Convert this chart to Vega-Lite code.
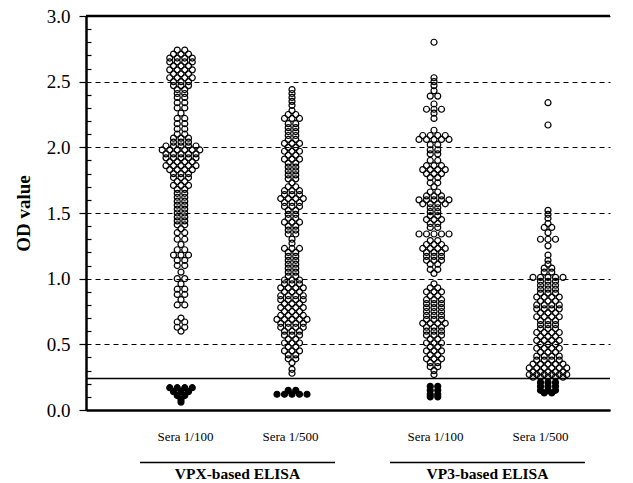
{
"$schema": "https://vega.github.io/schema/vega-lite/v6.json",
"width": 524, "height": 394,
"autosize": "none",
"padding": {"left": 86, "top": 16, "right": 23, "bottom": 73},
"background": "white",
"config": {"view": {"stroke": null}, "font": "Liberation Serif"},
"datasets": {
"assays": [{"assay": "VPX-based ELISA"}, {"assay": "VP3-based ELISA"}],
"sera": [
{"a":"VPX","d":"1/100","od":2.74},{"a":"VPX","d":"1/100","od":2.74},
{"a":"VPX","d":"1/100","od":2.71},{"a":"VPX","d":"1/100","od":2.71},{"a":"VPX","d":"1/100","od":2.71},
{"a":"VPX","d":"1/100","od":2.68},{"a":"VPX","d":"1/100","od":2.68},{"a":"VPX","d":"1/100","od":2.68},{"a":"VPX","d":"1/100","od":2.68},
{"a":"VPX","d":"1/100","od":2.65},{"a":"VPX","d":"1/100","od":2.65},{"a":"VPX","d":"1/100","od":2.65},{"a":"VPX","d":"1/100","od":2.65},
{"a":"VPX","d":"1/100","od":2.62},{"a":"VPX","d":"1/100","od":2.62},{"a":"VPX","d":"1/100","od":2.62},
{"a":"VPX","d":"1/100","od":2.59},{"a":"VPX","d":"1/100","od":2.59},{"a":"VPX","d":"1/100","od":2.59},{"a":"VPX","d":"1/100","od":2.59},
{"a":"VPX","d":"1/100","od":2.56},{"a":"VPX","d":"1/100","od":2.56},{"a":"VPX","d":"1/100","od":2.56},
{"a":"VPX","d":"1/100","od":2.53},{"a":"VPX","d":"1/100","od":2.53},{"a":"VPX","d":"1/100","od":2.53},{"a":"VPX","d":"1/100","od":2.53},
{"a":"VPX","d":"1/100","od":2.50},{"a":"VPX","d":"1/100","od":2.50},{"a":"VPX","d":"1/100","od":2.50},
{"a":"VPX","d":"1/100","od":2.47},{"a":"VPX","d":"1/100","od":2.47},{"a":"VPX","d":"1/100","od":2.47},
{"a":"VPX","d":"1/100","od":2.44},{"a":"VPX","d":"1/100","od":2.44},
{"a":"VPX","d":"1/100","od":2.41},{"a":"VPX","d":"1/100","od":2.41},
{"a":"VPX","d":"1/100","od":2.38},{"a":"VPX","d":"1/100","od":2.38},
{"a":"VPX","d":"1/100","od":2.34},{"a":"VPX","d":"1/100","od":2.34},
{"a":"VPX","d":"1/100","od":2.30},{"a":"VPX","d":"1/100","od":2.30},
{"a":"VPX","d":"1/100","od":2.26},
{"a":"VPX","d":"1/100","od":2.22},{"a":"VPX","d":"1/100","od":2.22},
{"a":"VPX","d":"1/100","od":2.18},{"a":"VPX","d":"1/100","od":2.18},
{"a":"VPX","d":"1/100","od":2.14},{"a":"VPX","d":"1/100","od":2.14},
{"a":"VPX","d":"1/100","od":2.10},{"a":"VPX","d":"1/100","od":2.10},
{"a":"VPX","d":"1/100","od":2.07},{"a":"VPX","d":"1/100","od":2.07},{"a":"VPX","d":"1/100","od":2.07},
{"a":"VPX","d":"1/100","od":2.04},{"a":"VPX","d":"1/100","od":2.04},{"a":"VPX","d":"1/100","od":2.04},
{"a":"VPX","d":"1/100","od":2.01},{"a":"VPX","d":"1/100","od":2.01},{"a":"VPX","d":"1/100","od":2.01},{"a":"VPX","d":"1/100","od":2.01},{"a":"VPX","d":"1/100","od":2.01},
{"a":"VPX","d":"1/100","od":1.98},{"a":"VPX","d":"1/100","od":1.98},{"a":"VPX","d":"1/100","od":1.98},{"a":"VPX","d":"1/100","od":1.98},{"a":"VPX","d":"1/100","od":1.98},{"a":"VPX","d":"1/100","od":1.98},
{"a":"VPX","d":"1/100","od":1.95},{"a":"VPX","d":"1/100","od":1.95},{"a":"VPX","d":"1/100","od":1.95},{"a":"VPX","d":"1/100","od":1.95},{"a":"VPX","d":"1/100","od":1.95},
{"a":"VPX","d":"1/100","od":1.92},{"a":"VPX","d":"1/100","od":1.92},{"a":"VPX","d":"1/100","od":1.92},{"a":"VPX","d":"1/100","od":1.92},{"a":"VPX","d":"1/100","od":1.92},
{"a":"VPX","d":"1/100","od":1.89},{"a":"VPX","d":"1/100","od":1.89},{"a":"VPX","d":"1/100","od":1.89},{"a":"VPX","d":"1/100","od":1.89},
{"a":"VPX","d":"1/100","od":1.86},{"a":"VPX","d":"1/100","od":1.86},{"a":"VPX","d":"1/100","od":1.86},{"a":"VPX","d":"1/100","od":1.86},{"a":"VPX","d":"1/100","od":1.86},
{"a":"VPX","d":"1/100","od":1.83},{"a":"VPX","d":"1/100","od":1.83},{"a":"VPX","d":"1/100","od":1.83},{"a":"VPX","d":"1/100","od":1.83},
{"a":"VPX","d":"1/100","od":1.80},{"a":"VPX","d":"1/100","od":1.80},{"a":"VPX","d":"1/100","od":1.80},
{"a":"VPX","d":"1/100","od":1.77},{"a":"VPX","d":"1/100","od":1.77},{"a":"VPX","d":"1/100","od":1.77},
{"a":"VPX","d":"1/100","od":1.74},{"a":"VPX","d":"1/100","od":1.74},
{"a":"VPX","d":"1/100","od":1.71},{"a":"VPX","d":"1/100","od":1.71},{"a":"VPX","d":"1/100","od":1.71},
{"a":"VPX","d":"1/100","od":1.68},{"a":"VPX","d":"1/100","od":1.68},
{"a":"VPX","d":"1/100","od":1.65},{"a":"VPX","d":"1/100","od":1.65},
{"a":"VPX","d":"1/100","od":1.62},{"a":"VPX","d":"1/100","od":1.62},
{"a":"VPX","d":"1/100","od":1.59},{"a":"VPX","d":"1/100","od":1.59},
{"a":"VPX","d":"1/100","od":1.56},{"a":"VPX","d":"1/100","od":1.56},
{"a":"VPX","d":"1/100","od":1.53},{"a":"VPX","d":"1/100","od":1.53},
{"a":"VPX","d":"1/100","od":1.50},{"a":"VPX","d":"1/100","od":1.50},
{"a":"VPX","d":"1/100","od":1.47},{"a":"VPX","d":"1/100","od":1.47},
{"a":"VPX","d":"1/100","od":1.44},{"a":"VPX","d":"1/100","od":1.44},
{"a":"VPX","d":"1/100","od":1.41},{"a":"VPX","d":"1/100","od":1.41},
{"a":"VPX","d":"1/100","od":1.38},
{"a":"VPX","d":"1/100","od":1.35},{"a":"VPX","d":"1/100","od":1.35},
{"a":"VPX","d":"1/100","od":1.30},{"a":"VPX","d":"1/100","od":1.30},
{"a":"VPX","d":"1/100","od":1.26},
{"a":"VPX","d":"1/100","od":1.22},{"a":"VPX","d":"1/100","od":1.22},
{"a":"VPX","d":"1/100","od":1.18},{"a":"VPX","d":"1/100","od":1.18},{"a":"VPX","d":"1/100","od":1.18},
{"a":"VPX","d":"1/100","od":1.14},{"a":"VPX","d":"1/100","od":1.14},
{"a":"VPX","d":"1/100","od":1.10},{"a":"VPX","d":"1/100","od":1.10},
{"a":"VPX","d":"1/100","od":1.05},
{"a":"VPX","d":"1/100","od":1.00},{"a":"VPX","d":"1/100","od":1.00},
{"a":"VPX","d":"1/100","od":0.96},
{"a":"VPX","d":"1/100","od":0.92},{"a":"VPX","d":"1/100","od":0.92},
{"a":"VPX","d":"1/100","od":0.88},{"a":"VPX","d":"1/100","od":0.88},
{"a":"VPX","d":"1/100","od":0.84},
{"a":"VPX","d":"1/100","od":0.80},{"a":"VPX","d":"1/100","od":0.80},
{"a":"VPX","d":"1/100","od":0.70},
{"a":"VPX","d":"1/100","od":0.67},{"a":"VPX","d":"1/100","od":0.67},
{"a":"VPX","d":"1/100","od":0.63},{"a":"VPX","d":"1/100","od":0.63},
{"a":"VPX","d":"1/100","od":0.60},
{"a":"VPX","d":"1/100","od":0.17},{"a":"VPX","d":"1/100","od":0.17},{"a":"VPX","d":"1/100","od":0.17},{"a":"VPX","d":"1/100","od":0.17},
{"a":"VPX","d":"1/100","od":0.14},{"a":"VPX","d":"1/100","od":0.14},{"a":"VPX","d":"1/100","od":0.14},
{"a":"VPX","d":"1/100","od":0.11},{"a":"VPX","d":"1/100","od":0.11},
{"a":"VPX","d":"1/100","od":0.08},{"a":"VPX","d":"1/100","od":0.06},

{"a":"VPX","d":"1/500","od":2.44},{"a":"VPX","d":"1/500","od":2.41},{"a":"VPX","d":"1/500","od":2.38},{"a":"VPX","d":"1/500","od":2.35},{"a":"VPX","d":"1/500","od":2.32},{"a":"VPX","d":"1/500","od":2.28},
{"a":"VPX","d":"1/500","od":2.25},{"a":"VPX","d":"1/500","od":2.25},
{"a":"VPX","d":"1/500","od":2.22},{"a":"VPX","d":"1/500","od":2.22},{"a":"VPX","d":"1/500","od":2.22},
{"a":"VPX","d":"1/500","od":2.18},{"a":"VPX","d":"1/500","od":2.18},
{"a":"VPX","d":"1/500","od":2.15},{"a":"VPX","d":"1/500","od":2.15},
{"a":"VPX","d":"1/500","od":2.12},{"a":"VPX","d":"1/500","od":2.12},
{"a":"VPX","d":"1/500","od":2.09},{"a":"VPX","d":"1/500","od":2.09},
{"a":"VPX","d":"1/500","od":2.06},{"a":"VPX","d":"1/500","od":2.06},
{"a":"VPX","d":"1/500","od":2.03},{"a":"VPX","d":"1/500","od":2.03},{"a":"VPX","d":"1/500","od":2.03},
{"a":"VPX","d":"1/500","od":2.00},{"a":"VPX","d":"1/500","od":2.00},
{"a":"VPX","d":"1/500","od":1.97},{"a":"VPX","d":"1/500","od":1.97},{"a":"VPX","d":"1/500","od":1.97},
{"a":"VPX","d":"1/500","od":1.94},{"a":"VPX","d":"1/500","od":1.94},
{"a":"VPX","d":"1/500","od":1.91},{"a":"VPX","d":"1/500","od":1.91},{"a":"VPX","d":"1/500","od":1.91},
{"a":"VPX","d":"1/500","od":1.88},{"a":"VPX","d":"1/500","od":1.88},
{"a":"VPX","d":"1/500","od":1.85},{"a":"VPX","d":"1/500","od":1.85},
{"a":"VPX","d":"1/500","od":1.82},{"a":"VPX","d":"1/500","od":1.82},
{"a":"VPX","d":"1/500","od":1.79},{"a":"VPX","d":"1/500","od":1.79},
{"a":"VPX","d":"1/500","od":1.76},{"a":"VPX","d":"1/500","od":1.76},
{"a":"VPX","d":"1/500","od":1.73},
{"a":"VPX","d":"1/500","od":1.70},{"a":"VPX","d":"1/500","od":1.70},
{"a":"VPX","d":"1/500","od":1.67},{"a":"VPX","d":"1/500","od":1.67},{"a":"VPX","d":"1/500","od":1.67},
{"a":"VPX","d":"1/500","od":1.64},{"a":"VPX","d":"1/500","od":1.64},{"a":"VPX","d":"1/500","od":1.64},
{"a":"VPX","d":"1/500","od":1.61},{"a":"VPX","d":"1/500","od":1.61},{"a":"VPX","d":"1/500","od":1.61},{"a":"VPX","d":"1/500","od":1.61},
{"a":"VPX","d":"1/500","od":1.58},{"a":"VPX","d":"1/500","od":1.58},{"a":"VPX","d":"1/500","od":1.58},
{"a":"VPX","d":"1/500","od":1.55},{"a":"VPX","d":"1/500","od":1.55},{"a":"VPX","d":"1/500","od":1.55},
{"a":"VPX","d":"1/500","od":1.52},{"a":"VPX","d":"1/500","od":1.52},
{"a":"VPX","d":"1/500","od":1.49},{"a":"VPX","d":"1/500","od":1.49},
{"a":"VPX","d":"1/500","od":1.46},{"a":"VPX","d":"1/500","od":1.46},
{"a":"VPX","d":"1/500","od":1.43},{"a":"VPX","d":"1/500","od":1.43},{"a":"VPX","d":"1/500","od":1.43},
{"a":"VPX","d":"1/500","od":1.40},{"a":"VPX","d":"1/500","od":1.40},
{"a":"VPX","d":"1/500","od":1.37},{"a":"VPX","d":"1/500","od":1.37},
{"a":"VPX","d":"1/500","od":1.34},{"a":"VPX","d":"1/500","od":1.34},
{"a":"VPX","d":"1/500","od":1.30},{"a":"VPX","d":"1/500","od":1.27},
{"a":"VPX","d":"1/500","od":1.23},{"a":"VPX","d":"1/500","od":1.23},{"a":"VPX","d":"1/500","od":1.23},
{"a":"VPX","d":"1/500","od":1.20},{"a":"VPX","d":"1/500","od":1.20},
{"a":"VPX","d":"1/500","od":1.17},{"a":"VPX","d":"1/500","od":1.17},
{"a":"VPX","d":"1/500","od":1.14},{"a":"VPX","d":"1/500","od":1.14},
{"a":"VPX","d":"1/500","od":1.11},{"a":"VPX","d":"1/500","od":1.11},
{"a":"VPX","d":"1/500","od":1.08},{"a":"VPX","d":"1/500","od":1.08},
{"a":"VPX","d":"1/500","od":1.05},{"a":"VPX","d":"1/500","od":1.05},
{"a":"VPX","d":"1/500","od":1.02},{"a":"VPX","d":"1/500","od":1.02},
{"a":"VPX","d":"1/500","od":0.99},{"a":"VPX","d":"1/500","od":0.99},{"a":"VPX","d":"1/500","od":0.99},
{"a":"VPX","d":"1/500","od":0.96},{"a":"VPX","d":"1/500","od":0.96},{"a":"VPX","d":"1/500","od":0.96},
{"a":"VPX","d":"1/500","od":0.93},{"a":"VPX","d":"1/500","od":0.93},{"a":"VPX","d":"1/500","od":0.93},{"a":"VPX","d":"1/500","od":0.93},
{"a":"VPX","d":"1/500","od":0.90},{"a":"VPX","d":"1/500","od":0.90},{"a":"VPX","d":"1/500","od":0.90},
{"a":"VPX","d":"1/500","od":0.87},{"a":"VPX","d":"1/500","od":0.87},{"a":"VPX","d":"1/500","od":0.87},{"a":"VPX","d":"1/500","od":0.87},
{"a":"VPX","d":"1/500","od":0.84},{"a":"VPX","d":"1/500","od":0.84},{"a":"VPX","d":"1/500","od":0.84},{"a":"VPX","d":"1/500","od":0.84},
{"a":"VPX","d":"1/500","od":0.81},{"a":"VPX","d":"1/500","od":0.81},{"a":"VPX","d":"1/500","od":0.81},
{"a":"VPX","d":"1/500","od":0.78},{"a":"VPX","d":"1/500","od":0.78},{"a":"VPX","d":"1/500","od":0.78},{"a":"VPX","d":"1/500","od":0.78},
{"a":"VPX","d":"1/500","od":0.75},{"a":"VPX","d":"1/500","od":0.75},{"a":"VPX","d":"1/500","od":0.75},
{"a":"VPX","d":"1/500","od":0.72},{"a":"VPX","d":"1/500","od":0.72},{"a":"VPX","d":"1/500","od":0.72},{"a":"VPX","d":"1/500","od":0.72},
{"a":"VPX","d":"1/500","od":0.69},{"a":"VPX","d":"1/500","od":0.69},{"a":"VPX","d":"1/500","od":0.69},{"a":"VPX","d":"1/500","od":0.69},{"a":"VPX","d":"1/500","od":0.69},
{"a":"VPX","d":"1/500","od":0.66},{"a":"VPX","d":"1/500","od":0.66},{"a":"VPX","d":"1/500","od":0.66},{"a":"VPX","d":"1/500","od":0.66},
{"a":"VPX","d":"1/500","od":0.63},{"a":"VPX","d":"1/500","od":0.63},{"a":"VPX","d":"1/500","od":0.63},{"a":"VPX","d":"1/500","od":0.63},
{"a":"VPX","d":"1/500","od":0.60},{"a":"VPX","d":"1/500","od":0.60},{"a":"VPX","d":"1/500","od":0.60},
{"a":"VPX","d":"1/500","od":0.57},{"a":"VPX","d":"1/500","od":0.57},{"a":"VPX","d":"1/500","od":0.57},
{"a":"VPX","d":"1/500","od":0.54},{"a":"VPX","d":"1/500","od":0.54},
{"a":"VPX","d":"1/500","od":0.51},{"a":"VPX","d":"1/500","od":0.51},{"a":"VPX","d":"1/500","od":0.51},
{"a":"VPX","d":"1/500","od":0.48},{"a":"VPX","d":"1/500","od":0.48},
{"a":"VPX","d":"1/500","od":0.45},{"a":"VPX","d":"1/500","od":0.45},{"a":"VPX","d":"1/500","od":0.45},
{"a":"VPX","d":"1/500","od":0.42},{"a":"VPX","d":"1/500","od":0.42},
{"a":"VPX","d":"1/500","od":0.39},{"a":"VPX","d":"1/500","od":0.39},
{"a":"VPX","d":"1/500","od":0.36},{"a":"VPX","d":"1/500","od":0.31},{"a":"VPX","d":"1/500","od":0.28},
{"a":"VPX","d":"1/500","od":0.15},{"a":"VPX","d":"1/500","od":0.15},
{"a":"VPX","d":"1/500","od":0.12},{"a":"VPX","d":"1/500","od":0.12},{"a":"VPX","d":"1/500","od":0.12},{"a":"VPX","d":"1/500","od":0.12},{"a":"VPX","d":"1/500","od":0.12},

{"a":"VP3","d":"1/100","od":2.80},{"a":"VP3","d":"1/100","od":2.53},{"a":"VP3","d":"1/100","od":2.50},{"a":"VP3","d":"1/100","od":2.47},{"a":"VP3","d":"1/100","od":2.43},
{"a":"VP3","d":"1/100","od":2.39},{"a":"VP3","d":"1/100","od":2.39},
{"a":"VP3","d":"1/100","od":2.33},
{"a":"VP3","d":"1/100","od":2.29},{"a":"VP3","d":"1/100","od":2.29},{"a":"VP3","d":"1/100","od":2.29},
{"a":"VP3","d":"1/100","od":2.26},{"a":"VP3","d":"1/100","od":2.22},{"a":"VP3","d":"1/100","od":2.13},
{"a":"VP3","d":"1/100","od":2.09},{"a":"VP3","d":"1/100","od":2.09},{"a":"VP3","d":"1/100","od":2.09},{"a":"VP3","d":"1/100","od":2.09},
{"a":"VP3","d":"1/100","od":2.06},{"a":"VP3","d":"1/100","od":2.06},{"a":"VP3","d":"1/100","od":2.06},{"a":"VP3","d":"1/100","od":2.06},{"a":"VP3","d":"1/100","od":2.06},
{"a":"VP3","d":"1/100","od":2.02},{"a":"VP3","d":"1/100","od":2.02},
{"a":"VP3","d":"1/100","od":1.98},{"a":"VP3","d":"1/100","od":1.98},
{"a":"VP3","d":"1/100","od":1.95},{"a":"VP3","d":"1/100","od":1.95},
{"a":"VP3","d":"1/100","od":1.90},{"a":"VP3","d":"1/100","od":1.90},
{"a":"VP3","d":"1/100","od":1.86},{"a":"VP3","d":"1/100","od":1.86},{"a":"VP3","d":"1/100","od":1.86},
{"a":"VP3","d":"1/100","od":1.83},{"a":"VP3","d":"1/100","od":1.83},{"a":"VP3","d":"1/100","od":1.83},{"a":"VP3","d":"1/100","od":1.83},
{"a":"VP3","d":"1/100","od":1.80},{"a":"VP3","d":"1/100","od":1.80},{"a":"VP3","d":"1/100","od":1.80},
{"a":"VP3","d":"1/100","od":1.77},{"a":"VP3","d":"1/100","od":1.77},
{"a":"VP3","d":"1/100","od":1.73},{"a":"VP3","d":"1/100","od":1.73},
{"a":"VP3","d":"1/100","od":1.70},
{"a":"VP3","d":"1/100","od":1.66},{"a":"VP3","d":"1/100","od":1.66},
{"a":"VP3","d":"1/100","od":1.63},{"a":"VP3","d":"1/100","od":1.63},{"a":"VP3","d":"1/100","od":1.63},
{"a":"VP3","d":"1/100","od":1.60},{"a":"VP3","d":"1/100","od":1.60},{"a":"VP3","d":"1/100","od":1.60},{"a":"VP3","d":"1/100","od":1.60},{"a":"VP3","d":"1/100","od":1.60},
{"a":"VP3","d":"1/100","od":1.57},{"a":"VP3","d":"1/100","od":1.57},{"a":"VP3","d":"1/100","od":1.57},{"a":"VP3","d":"1/100","od":1.57},
{"a":"VP3","d":"1/100","od":1.54},{"a":"VP3","d":"1/100","od":1.54},
{"a":"VP3","d":"1/100","od":1.51},{"a":"VP3","d":"1/100","od":1.51},
{"a":"VP3","d":"1/100","od":1.48},{"a":"VP3","d":"1/100","od":1.48},
{"a":"VP3","d":"1/100","od":1.45},{"a":"VP3","d":"1/100","od":1.45},{"a":"VP3","d":"1/100","od":1.45},
{"a":"VP3","d":"1/100","od":1.42},{"a":"VP3","d":"1/100","od":1.42},
{"a":"VP3","d":"1/100","od":1.39},{"a":"VP3","d":"1/100","od":1.39},
{"a":"VP3","d":"1/100","od":1.34},{"a":"VP3","d":"1/100","od":1.34},{"a":"VP3","d":"1/100","od":1.34},{"a":"VP3","d":"1/100","od":1.34},{"a":"VP3","d":"1/100","od":1.34},
{"a":"VP3","d":"1/100","od":1.29},{"a":"VP3","d":"1/100","od":1.29},
{"a":"VP3","d":"1/100","od":1.26},{"a":"VP3","d":"1/100","od":1.26},{"a":"VP3","d":"1/100","od":1.26},
{"a":"VP3","d":"1/100","od":1.23},{"a":"VP3","d":"1/100","od":1.23},{"a":"VP3","d":"1/100","od":1.23},{"a":"VP3","d":"1/100","od":1.23},
{"a":"VP3","d":"1/100","od":1.20},{"a":"VP3","d":"1/100","od":1.20},{"a":"VP3","d":"1/100","od":1.20},
{"a":"VP3","d":"1/100","od":1.17},{"a":"VP3","d":"1/100","od":1.17},{"a":"VP3","d":"1/100","od":1.17},
{"a":"VP3","d":"1/100","od":1.14},{"a":"VP3","d":"1/100","od":1.14},{"a":"VP3","d":"1/100","od":1.14},
{"a":"VP3","d":"1/100","od":1.11},{"a":"VP3","d":"1/100","od":1.11},
{"a":"VP3","d":"1/100","od":1.07},{"a":"VP3","d":"1/100","od":1.07},
{"a":"VP3","d":"1/100","od":1.04},{"a":"VP3","d":"1/100","od":0.96},
{"a":"VP3","d":"1/100","od":0.93},{"a":"VP3","d":"1/100","od":0.93},
{"a":"VP3","d":"1/100","od":0.90},{"a":"VP3","d":"1/100","od":0.90},{"a":"VP3","d":"1/100","od":0.90},
{"a":"VP3","d":"1/100","od":0.87},{"a":"VP3","d":"1/100","od":0.87},
{"a":"VP3","d":"1/100","od":0.84},{"a":"VP3","d":"1/100","od":0.84},{"a":"VP3","d":"1/100","od":0.84},
{"a":"VP3","d":"1/100","od":0.81},{"a":"VP3","d":"1/100","od":0.81},{"a":"VP3","d":"1/100","od":0.81},
{"a":"VP3","d":"1/100","od":0.78},{"a":"VP3","d":"1/100","od":0.78},{"a":"VP3","d":"1/100","od":0.78},
{"a":"VP3","d":"1/100","od":0.75},{"a":"VP3","d":"1/100","od":0.75},{"a":"VP3","d":"1/100","od":0.75},
{"a":"VP3","d":"1/100","od":0.72},{"a":"VP3","d":"1/100","od":0.72},{"a":"VP3","d":"1/100","od":0.72},
{"a":"VP3","d":"1/100","od":0.69},{"a":"VP3","d":"1/100","od":0.69},{"a":"VP3","d":"1/100","od":0.69},
{"a":"VP3","d":"1/100","od":0.66},{"a":"VP3","d":"1/100","od":0.66},{"a":"VP3","d":"1/100","od":0.66},{"a":"VP3","d":"1/100","od":0.66},
{"a":"VP3","d":"1/100","od":0.63},{"a":"VP3","d":"1/100","od":0.63},{"a":"VP3","d":"1/100","od":0.63},
{"a":"VP3","d":"1/100","od":0.60},{"a":"VP3","d":"1/100","od":0.60},{"a":"VP3","d":"1/100","od":0.60},
{"a":"VP3","d":"1/100","od":0.57},{"a":"VP3","d":"1/100","od":0.57},{"a":"VP3","d":"1/100","od":0.57},
{"a":"VP3","d":"1/100","od":0.54},{"a":"VP3","d":"1/100","od":0.54},
{"a":"VP3","d":"1/100","od":0.51},{"a":"VP3","d":"1/100","od":0.51},{"a":"VP3","d":"1/100","od":0.51},
{"a":"VP3","d":"1/100","od":0.48},{"a":"VP3","d":"1/100","od":0.48},
{"a":"VP3","d":"1/100","od":0.45},{"a":"VP3","d":"1/100","od":0.45},{"a":"VP3","d":"1/100","od":0.45},
{"a":"VP3","d":"1/100","od":0.42},{"a":"VP3","d":"1/100","od":0.42},
{"a":"VP3","d":"1/100","od":0.39},{"a":"VP3","d":"1/100","od":0.39},{"a":"VP3","d":"1/100","od":0.39},
{"a":"VP3","d":"1/100","od":0.36},{"a":"VP3","d":"1/100","od":0.36},
{"a":"VP3","d":"1/100","od":0.33},{"a":"VP3","d":"1/100","od":0.33},
{"a":"VP3","d":"1/100","od":0.30},{"a":"VP3","d":"1/100","od":0.27},
{"a":"VP3","d":"1/100","od":0.18},{"a":"VP3","d":"1/100","od":0.18},
{"a":"VP3","d":"1/100","od":0.15},{"a":"VP3","d":"1/100","od":0.15},
{"a":"VP3","d":"1/100","od":0.12},{"a":"VP3","d":"1/100","od":0.12},
{"a":"VP3","d":"1/100","od":0.10},{"a":"VP3","d":"1/100","od":0.10},

{"a":"VP3","d":"1/500","od":2.34},{"a":"VP3","d":"1/500","od":2.17},
{"a":"VP3","d":"1/500","od":1.52},{"a":"VP3","d":"1/500","od":1.49},{"a":"VP3","d":"1/500","od":1.46},{"a":"VP3","d":"1/500","od":1.42},
{"a":"VP3","d":"1/500","od":1.39},{"a":"VP3","d":"1/500","od":1.39},
{"a":"VP3","d":"1/500","od":1.35},
{"a":"VP3","d":"1/500","od":1.30},{"a":"VP3","d":"1/500","od":1.30},{"a":"VP3","d":"1/500","od":1.30},
{"a":"VP3","d":"1/500","od":1.25},{"a":"VP3","d":"1/500","od":1.18},{"a":"VP3","d":"1/500","od":1.14},{"a":"VP3","d":"1/500","od":1.11},
{"a":"VP3","d":"1/500","od":1.08},{"a":"VP3","d":"1/500","od":1.08},
{"a":"VP3","d":"1/500","od":1.05},{"a":"VP3","d":"1/500","od":1.05},
{"a":"VP3","d":"1/500","od":1.01},{"a":"VP3","d":"1/500","od":1.01},{"a":"VP3","d":"1/500","od":1.01},{"a":"VP3","d":"1/500","od":1.01},{"a":"VP3","d":"1/500","od":1.01},
{"a":"VP3","d":"1/500","od":0.98},{"a":"VP3","d":"1/500","od":0.98},{"a":"VP3","d":"1/500","od":0.98},
{"a":"VP3","d":"1/500","od":0.95},{"a":"VP3","d":"1/500","od":0.95},{"a":"VP3","d":"1/500","od":0.95},
{"a":"VP3","d":"1/500","od":0.92},{"a":"VP3","d":"1/500","od":0.92},{"a":"VP3","d":"1/500","od":0.92},
{"a":"VP3","d":"1/500","od":0.89},{"a":"VP3","d":"1/500","od":0.89},{"a":"VP3","d":"1/500","od":0.89},
{"a":"VP3","d":"1/500","od":0.86},{"a":"VP3","d":"1/500","od":0.86},{"a":"VP3","d":"1/500","od":0.86},{"a":"VP3","d":"1/500","od":0.86},
{"a":"VP3","d":"1/500","od":0.83},{"a":"VP3","d":"1/500","od":0.83},{"a":"VP3","d":"1/500","od":0.83},
{"a":"VP3","d":"1/500","od":0.80},{"a":"VP3","d":"1/500","od":0.80},{"a":"VP3","d":"1/500","od":0.80},{"a":"VP3","d":"1/500","od":0.80},
{"a":"VP3","d":"1/500","od":0.77},{"a":"VP3","d":"1/500","od":0.77},{"a":"VP3","d":"1/500","od":0.77},{"a":"VP3","d":"1/500","od":0.77},
{"a":"VP3","d":"1/500","od":0.74},{"a":"VP3","d":"1/500","od":0.74},{"a":"VP3","d":"1/500","od":0.74},
{"a":"VP3","d":"1/500","od":0.71},{"a":"VP3","d":"1/500","od":0.71},{"a":"VP3","d":"1/500","od":0.71},{"a":"VP3","d":"1/500","od":0.71},
{"a":"VP3","d":"1/500","od":0.68},{"a":"VP3","d":"1/500","od":0.68},{"a":"VP3","d":"1/500","od":0.68},
{"a":"VP3","d":"1/500","od":0.65},{"a":"VP3","d":"1/500","od":0.65},{"a":"VP3","d":"1/500","od":0.65},
{"a":"VP3","d":"1/500","od":0.62},{"a":"VP3","d":"1/500","od":0.62},{"a":"VP3","d":"1/500","od":0.62},
{"a":"VP3","d":"1/500","od":0.59},{"a":"VP3","d":"1/500","od":0.59},{"a":"VP3","d":"1/500","od":0.59},{"a":"VP3","d":"1/500","od":0.59},
{"a":"VP3","d":"1/500","od":0.56},{"a":"VP3","d":"1/500","od":0.56},{"a":"VP3","d":"1/500","od":0.56},
{"a":"VP3","d":"1/500","od":0.53},{"a":"VP3","d":"1/500","od":0.53},{"a":"VP3","d":"1/500","od":0.53},{"a":"VP3","d":"1/500","od":0.53},
{"a":"VP3","d":"1/500","od":0.50},{"a":"VP3","d":"1/500","od":0.50},{"a":"VP3","d":"1/500","od":0.50},
{"a":"VP3","d":"1/500","od":0.47},{"a":"VP3","d":"1/500","od":0.47},{"a":"VP3","d":"1/500","od":0.47},{"a":"VP3","d":"1/500","od":0.47},
{"a":"VP3","d":"1/500","od":0.44},{"a":"VP3","d":"1/500","od":0.44},{"a":"VP3","d":"1/500","od":0.44},
{"a":"VP3","d":"1/500","od":0.41},{"a":"VP3","d":"1/500","od":0.41},{"a":"VP3","d":"1/500","od":0.41},{"a":"VP3","d":"1/500","od":0.41},
{"a":"VP3","d":"1/500","od":0.38},{"a":"VP3","d":"1/500","od":0.38},{"a":"VP3","d":"1/500","od":0.38},{"a":"VP3","d":"1/500","od":0.38},
{"a":"VP3","d":"1/500","od":0.35},{"a":"VP3","d":"1/500","od":0.35},{"a":"VP3","d":"1/500","od":0.35},{"a":"VP3","d":"1/500","od":0.35},{"a":"VP3","d":"1/500","od":0.35},
{"a":"VP3","d":"1/500","od":0.32},{"a":"VP3","d":"1/500","od":0.32},{"a":"VP3","d":"1/500","od":0.32},{"a":"VP3","d":"1/500","od":0.32},{"a":"VP3","d":"1/500","od":0.32},{"a":"VP3","d":"1/500","od":0.32},
{"a":"VP3","d":"1/500","od":0.29},{"a":"VP3","d":"1/500","od":0.29},{"a":"VP3","d":"1/500","od":0.29},{"a":"VP3","d":"1/500","od":0.29},{"a":"VP3","d":"1/500","od":0.29},
{"a":"VP3","d":"1/500","od":0.27},{"a":"VP3","d":"1/500","od":0.27},{"a":"VP3","d":"1/500","od":0.27},{"a":"VP3","d":"1/500","od":0.27},{"a":"VP3","d":"1/500","od":0.27},{"a":"VP3","d":"1/500","od":0.27},
{"a":"VP3","d":"1/500","od":0.25},{"a":"VP3","d":"1/500","od":0.25},{"a":"VP3","d":"1/500","od":0.25},{"a":"VP3","d":"1/500","od":0.25},{"a":"VP3","d":"1/500","od":0.25},
{"a":"VP3","d":"1/500","od":0.21},{"a":"VP3","d":"1/500","od":0.21},{"a":"VP3","d":"1/500","od":0.21},
{"a":"VP3","d":"1/500","od":0.18},{"a":"VP3","d":"1/500","od":0.18},{"a":"VP3","d":"1/500","od":0.18},
{"a":"VP3","d":"1/500","od":0.15},{"a":"VP3","d":"1/500","od":0.15},{"a":"VP3","d":"1/500","od":0.15},
{"a":"VP3","d":"1/500","od":0.13},{"a":"VP3","d":"1/500","od":0.13}
]
},
"layer": [
{
"data": {"name": "sera"},
"transform": [
{"calculate": "datum.a == 'VPX' ? (datum.d == '1/100' ? 95 : 206) : (datum.d == '1/100' ? 348 : 462)", "as": "xc"},
{"window": [{"op": "row_number", "as": "rk"}], "groupby": ["a", "d", "od"]},
{"joinaggregate": [{"op": "count", "as": "n"}], "groupby": ["a", "d", "od"]},
{"calculate": "datum.xc + (datum.rk - (datum.n + 1) / 2) * 7.5", "as": "xp"}
],
"mark": {"type": "circle", "size": 36, "stroke": "black", "strokeWidth": 1.2, "fill": "black", "opacity": 1},
"encoding": {
"x": {"field": "xp", "type": "quantitative", "title": null,
"scale": {"domain": [0, 524], "nice": false, "zero": false},
"axis": {"values": [99, 204, 349, 454], "tickCount": 10, "labelExpr": "datum.value == 99 || datum.value == 349 ? 'Sera 1/100' : 'Sera 1/500'", "ticks": false, "grid": false, "domainColor": "black", "domainWidth": 2.5, "labelFontSize": 13, "labelPadding": 20, "labelColor": "black", "labelFont": "Liberation Serif"}},
"y": {"field": "od", "type": "quantitative", "title": "OD value",
"scale": {"domain": [0, 3], "nice": false, "zero": false},
"axis": {"values": [0, 0.1, 0.2, 0.3, 0.4, 0.5, 0.6, 0.7, 0.8, 0.9, 1, 1.1, 1.2, 1.3, 1.4, 1.5, 1.6, 1.7, 1.8, 1.9, 2, 2.1, 2.2, 2.3, 2.4, 2.5, 2.6, 2.7, 2.8, 2.9, 3],
"tickCount": 100,
"labelOverlap": false,
"labelExpr": "indexof([0, 0.5, 1, 1.5, 2, 2.5, 3], datum.value) >= 0 ? format(datum.value, '.1f') : ''",
"grid": true, "gridColor": "black", "gridDash": [5, 4], "gridWidth": 1,
"gridOpacity": {"condition": {"test": "indexof([0, 0.5, 1, 1.5, 2, 2.5, 3], datum.value) >= 0", "value": 1}, "value": 0},
"domainColor": "black", "domainWidth": 2.5, "tickColor": "black", "tickWidth": 1.2,
"tickSize": {"condition": {"test": "indexof([0, 0.5, 1, 1.5, 2, 2.5, 3], datum.value) >= 0", "value": 7}, "value": -5},
"labelFontSize": 19, "labelPadding": 9, "labelColor": "black", "labelFont": "Liberation Serif", "titleFont": "Liberation Serif", "titleFontSize": 19, "titleFontWeight": "bold", "titleColor": "black", "titlePadding": 13}},
"fillOpacity": {"condition": {"test": "datum.od < 0.24", "value": 1}, "value": 0}
}
},
{
"data": {"values": [{}]},
"mark": {"type": "rule", "color": "black", "strokeWidth": 1.5},
"encoding": {"y": {"datum": 0.24, "type": "quantitative"}}
},
{
"data": {"values": [{}]},
"mark": {"type": "rule", "color": "black", "strokeWidth": 2.5},
"encoding": {"y": {"datum": 3, "type": "quantitative"}}
},
{
"data": {"name": "assays"},
"transform": [
{"calculate": "datum.assay == 'VPX-based ELISA' ? 54 : 304", "as": "x1"},
{"calculate": "datum.x1 + 195", "as": "x2"}
],
"mark": {"type": "rule", "color": "black", "strokeWidth": 1.5},
"encoding": {
"x": {"field": "x1", "type": "quantitative", "title": null},
"x2": {"field": "x2"},
"y": {"datum": -0.40, "type": "quantitative"}
}
},
{
"data": {"name": "assays"},
"transform": [
{"calculate": "datum.assay == 'VPX-based ELISA' ? 151.5 : 401.5", "as": "xm"}
],
"mark": {"type": "text", "font": "Liberation Serif", "fontWeight": "bold", "fontSize": 15.5, "baseline": "middle", "color": "black"},
"encoding": {
"x": {"field": "xm", "type": "quantitative", "title": null},
"y": {"datum": -0.49, "type": "quantitative"},
"text": {"field": "assay"}
}
}
]
}
